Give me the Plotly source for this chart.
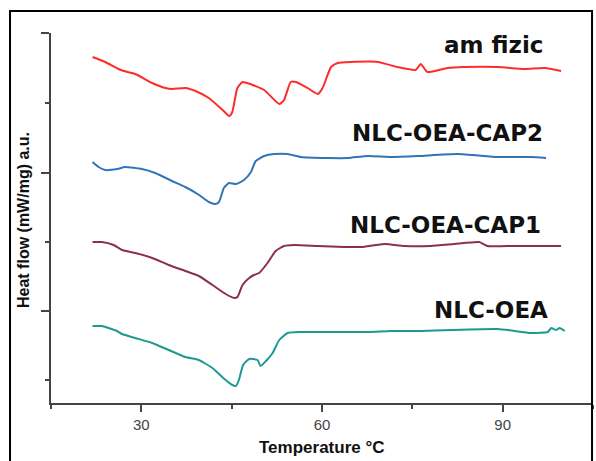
import plotly.graph_objects as go

# Temperature (°C) and heat flow (a.u.)
t_fizic = [21.9, 24.0, 26.2, 27.1, 29.0, 31.8, 34.0, 35.1, 37.3, 39.0, 41.2, 43.5, 44.6, 45.1, 45.95,
           46.8, 48.5, 50.4, 52.9, 53.7, 54.8, 55.7, 57.6, 59.3, 60.1, 61.5, 62.6, 64.8, 69.3, 72.5,
           75.55, 76.4, 77.5, 80.8, 83.6, 89.2, 93.6, 96.95, 99.7]
h_fizic = [34.6, 34.1, 33.4, 33.2, 32.9, 32.0, 31.5, 31.4, 31.5, 31.2, 30.5, 29.3, 28.7, 29.1, 31.5,
           32.1, 31.8, 31.3, 29.9, 30.3, 32.1, 32.1, 31.5, 30.9, 31.5, 33.6, 34.0, 34.1, 34.1, 33.6,
           33.3, 33.9, 33.1, 33.5, 33.6, 33.6, 33.4, 33.5, 33.2]

t_cap2 = [21.9, 22.9, 24.0, 26.0, 27.3, 30.1, 32.3, 35.1, 37.3, 39.6, 41.2, 42.3, 42.9, 43.7, 44.55,
          45.7, 47.05, 48.2, 49.0, 50.4, 52.05, 54.3, 56.5, 61.0, 64.3, 67.6, 71.5, 75.95, 82.5,
          89.2, 94.7, 97.2]
h_cap2 = [24.1, 23.6, 23.3, 23.4, 23.6, 23.4, 23.0, 22.2, 21.6, 20.8, 20.1, 19.9, 20.1, 21.5, 22.0,
          21.9, 22.3, 23.1, 24.2, 24.7, 24.9, 24.9, 24.6, 24.5, 24.5, 24.7, 24.6, 24.7, 24.9,
          24.6, 24.6, 24.5]

t_cap1 = [21.9, 23.45, 25.4, 26.8, 29.0, 31.8, 34.55, 37.3, 39.55, 41.8, 44.0, 45.4, 45.95, 46.8,
          47.9, 48.7, 49.55, 50.95, 52.3, 53.7, 55.4, 59.3, 63.7, 66.5, 70.4, 73.7, 78.05, 81.95,
          86.1, 87.5, 91.95, 99.7]
h_cap1 = [16.1, 16.1, 15.8, 15.3, 15.0, 14.5, 13.8, 13.2, 12.7, 11.8, 10.9, 10.5, 10.6, 11.8,
          12.5, 12.8, 13.0, 14.0, 15.2, 15.7, 15.8, 15.7, 15.6, 15.6, 15.9, 15.7, 15.7, 15.9,
          16.1, 15.7, 15.7, 15.7]

t_oea = [21.9, 23.45, 24.55, 25.95, 26.8, 29.0, 31.8, 34.55, 37.3, 39.55, 41.8, 44.0, 45.1, 45.7,
         46.2, 46.9, 47.9, 49.3, 49.8, 50.7, 51.8, 52.9, 54.3, 56.5, 62.05, 67.6, 71.5, 76.5,
         89.2, 94.7, 97.5, 98.05, 98.9, 99.45, 100.3]
h_oea = [7.7, 7.7, 7.5, 7.2, 6.9, 6.5, 6.0, 5.3, 4.6, 4.3, 3.5, 2.3, 1.8, 1.7,
         2.3, 3.8, 4.4, 4.3, 3.7, 4.2, 5.0, 6.3, 7.0, 7.1, 7.1, 7.1, 7.2, 7.2,
         7.4, 7.0, 7.1, 7.5, 7.3, 7.5, 7.2]

series_names = ["am fizic", "NLC-OEA-CAP2", "NLC-OEA-CAP1", "NLC-OEA"]
series_colors = ["#ff2a2a", "#3274b8", "#8c2f4e", "#1c9a92"]
label_x = [97.0, 97.0, 96.7, 97.8]
label_y = [35.8, 27.0, 17.85, 9.3]

x_major = [30, 60, 90]
x_minor = [15, 45, 75, 105]
y_major = [9.2, 23.0, 37.0]
y_minor = [2.3, 16.1, 30.0]

fig = go.Figure()
for t, h, c, n in zip([t_fizic, t_cap2, t_cap1, t_oea], [h_fizic, h_cap2, h_cap1, h_oea],
                      series_colors, series_names):
    fig.add_trace(go.Scatter(x=t, y=h, mode="lines", name=n,
                             line=dict(color=c, width=2, shape="spline", smoothing=0.5)))

for n, lx, ly in zip(series_names, label_x, label_y):
    fig.add_annotation(x=lx, y=ly, xref="x", yref="y", text="<b>" + n + "</b>",
                       showarrow=False, xanchor="right", yanchor="middle",
                       font=dict(family="DejaVu Sans", size=23, color="#111111"))

fig.add_annotation(x=0.5, y=-0.1216, xref="paper", yref="paper", text="<b>Temperature °C</b>",
                   showarrow=False, xanchor="center", yanchor="middle",
                   font=dict(family="Liberation Sans", size=17, color="#111111"))
fig.add_annotation(x=-0.0498, y=0.4946, xref="paper", yref="paper",
                   text="<b>Heat flow (mW/mg) a.u.</b>", textangle=-90,
                   showarrow=False, xanchor="center", yanchor="middle",
                   font=dict(family="Liberation Sans", size=16, color="#111111"))

# outer frame
fig.add_shape(type="rect", xref="paper", yref="paper", x0=-0.0756, x1=0.9982, y0=-0.25, y1=1.0595,
              line=dict(color="black", width=2), fillcolor="rgba(0,0,0,0)")

fig.update_layout(
    width=596, height=461,
    margin=dict(l=51, r=3, t=33, b=58),
    paper_bgcolor="white", plot_bgcolor="white",
    showlegend=False,
    xaxis=dict(range=[15, 105], tickmode="array", tickvals=x_major, ticktext=["30", "60", "90"],
               ticks="outside", ticklen=7, tickwidth=1.5, tickcolor="#444",
               showline=True, linecolor="#444", linewidth=1.5, showgrid=False, zeroline=False,
               tickfont=dict(family="Liberation Sans", size=15, color="#444"),
               minor=dict(tickmode="array", tickvals=x_minor, ticks="outside", ticklen=4,
                          tickwidth=1.5, tickcolor="#444", showgrid=False)),
    yaxis=dict(range=[0, 37.0], tickmode="array", tickvals=y_major, showticklabels=False,
               ticks="outside", ticklen=8, tickwidth=1.5, tickcolor="#444",
               showline=True, linecolor="#444", linewidth=1.5, showgrid=False, zeroline=False,
               minor=dict(tickmode="array", tickvals=y_minor, ticks="outside", ticklen=4,
                          tickwidth=1.5, tickcolor="#444", showgrid=False)),
)

fig.write_html("out.html")
